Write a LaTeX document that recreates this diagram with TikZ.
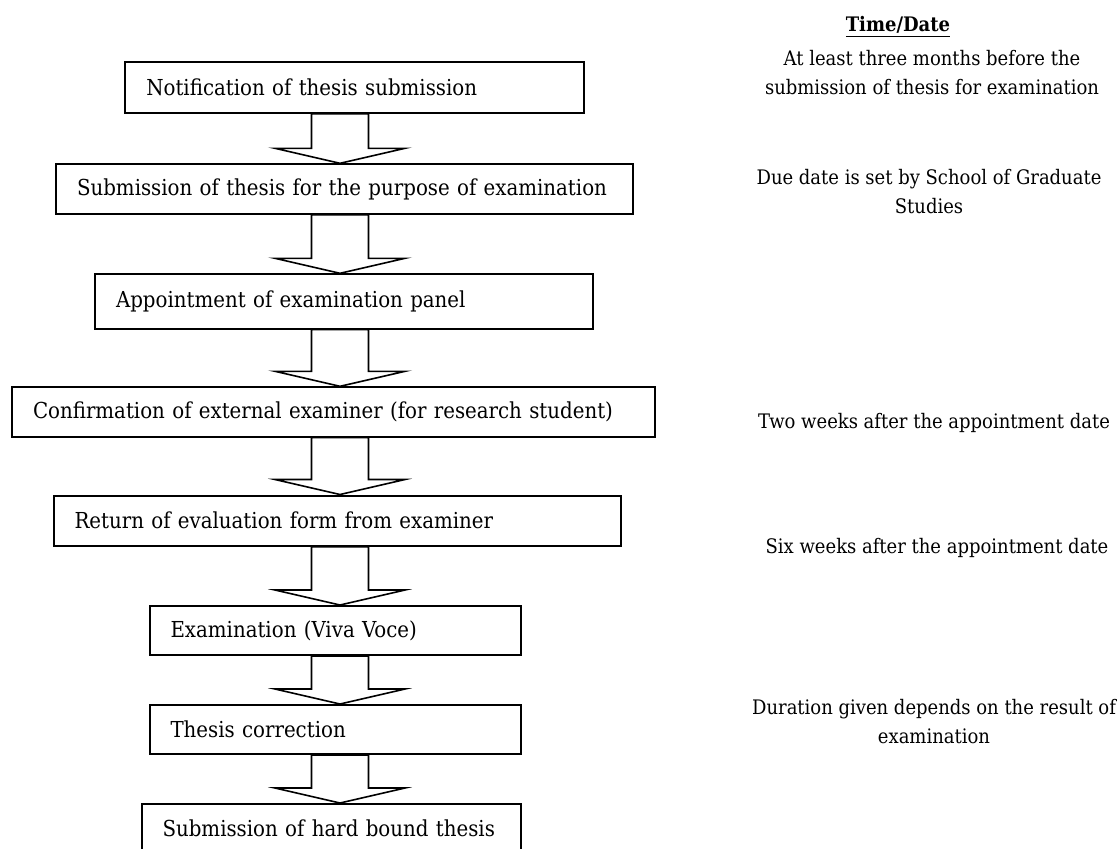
\documentclass[tikz,border=0pt]{standalone}
\usepackage{fontspec}
\setmainfont{DejaVu Serif Condensed}
\usetikzlibrary{calc}
\begin{document}
\begin{tikzpicture}[x=0.5pt,y=-0.5pt]
    \tikzstyle{block} = [ shape=rectangle, draw=black, line width=1pt, fill=white, anchor=north west, align=left, inner xsep=10.5pt, inner ysep=0pt, font=\fontsize{11}{15}\selectfont ];
    \tikzstyle{note} = [ align=center, inner sep=0pt, font=\fontsize{10}{14.5}\selectfont ];
    \tikzstyle{blockarr} = [ draw=black, line width=0.8pt, fill=white, line join=miter ];

    \useasboundingbox (0,0) rectangle (1118,848);
    \coordinate (spine) at (340,0);

    % process steps
    \node (nNotification) [block, text width=208.1pt, minimum height=25.5pt] at (124.3,60.7) {Notification of thesis submission};
    \node (nSubmission) [block, text width=267.65pt, minimum height=24.7pt] at (55,163.3) {Submission of thesis for the purpose of examination};
    \node (nAppointment) [block, text width=227.85pt, minimum height=27.1pt] at (94,273.3) {Appointment of examination panel};
    \node (nConfirmation) [block, text width=300.65pt, minimum height=24.6pt] at (11,386.3) {Confirmation of external examiner (for research student)};
    \node (nReturn) [block, text width=262.75pt, minimum height=25.1pt] at (52.5,494.5) {Return of evaluation form from examiner};
    \node (nViva) [block, text width=164.75pt, minimum height=24.5pt] at (148.5,605) {Examination (Viva Voce)};
    \node (nCorrection) [block, text width=164.75pt, minimum height=24.5pt] at (148.5,704) {Thesis correction};
    \node (nHardBound) [block, text width=168.75pt, minimum height=24.5pt] at (140.5,803) {Submission of hard bound thesis};

    % time/date column
    \node (nTimeDate) [note] at (898,27) {\textbf{\underline{Time/Date}}};
    \node (nTimeNotification) [note] at (932,73) {At least three months before the\\submission of thesis for examination};
    \node (nTimeSubmission) [note] at (929,192) {Due date is set by School of Graduate\\Studies};
    \node (nTimeConfirmation) [note] at (934,423) {Two weeks after the appointment date};
    \node (nTimeReturn) [note] at (937,548) {Six weeks after the appointment date};
    \node (nTimeCorrection) [note] at (934,722) {Duration given depends on the result of\\examination};

    % block arrows
    \foreach \a/\b in {nNotification/nSubmission, nSubmission/nAppointment, nAppointment/nConfirmation, nConfirmation/nReturn, nReturn/nViva, nViva/nCorrection, nCorrection/nHardBound}
        \draw [blockarr] ([xshift=-14.25pt]spine |- \a.south) -- ([xshift=-14.25pt,yshift=7.5pt]spine |- \b.north) -- ([xshift=-32.5pt,yshift=7.5pt]spine |- \b.north) -- (spine |- \b.north) -- ([xshift=32.5pt,yshift=7.5pt]spine |- \b.north) -- ([xshift=14.25pt,yshift=7.5pt]spine |- \b.north) -- ([xshift=14.25pt]spine |- \a.south) -- cycle;
\end{tikzpicture}
\end{document}
